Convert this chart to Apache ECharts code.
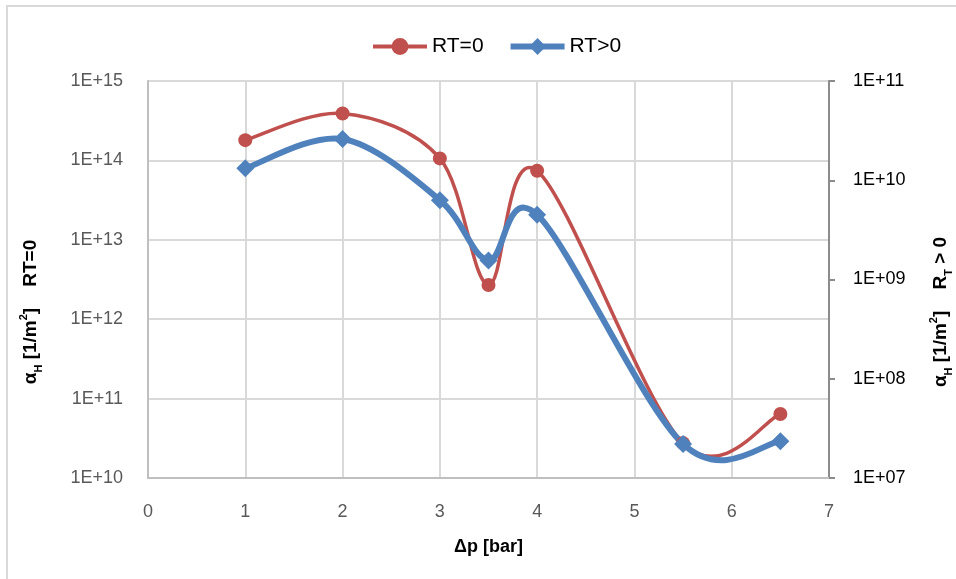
<!DOCTYPE html>
<html>
<head>
<meta charset="utf-8">
<script src="https://cdn.jsdelivr.net/npm/echarts@6/dist/echarts.min.js"></script>
<style>
html,body{margin:0;padding:0;background:#fff;}
#chart{width:956px;height:579px;}
</style>
</head>
<body>
<div id="chart"></div>
<script>
var xValues = [1, 2, 3, 3.5, 4, 5.5, 6.5];
var rt0Values = [1.8e14, 3.9e14, 1.06e14, 2.7e12, 7.4e13, 2.75e10, 6.4e10];
var rtPosValues = [1.32e10, 2.6e10, 6.3e9, 1.55e9, 4.5e9, 2.2e7, 2.35e7];
var seriesNames = ['RT=0', 'RT>0'];
var xTitle = 'Δp [bar]';

var FONT = '"Liberation Sans", "DejaVu Sans", sans-serif';
var RED = '#C0504D', BLUE = '#4F81BD';

function pairs(xs, ys) {
  return xs.map(function (x, i) { return [x, ys[i]]; });
}
function expLabel(v) {
  var e = Math.round(Math.log(v) / Math.LN10);
  return '1E+' + (e < 10 ? '0' + e : e);
}

// Excel-like smoothed curve (Catmull-Rom Bezier in pixel space), positions via api.coord
function curveRenderer(xs, ys, color, width) {
  return function (params, api) {
    if (params.dataIndex !== 0) return null;
    var p = xs.map(function (x, i) { return api.coord([x, ys[i]]); });
    var n = p.length;
    var d = 'M' + p[0][0] + ' ' + p[0][1];
    for (var i = 0; i < n - 1; i++) {
      var p0 = p[i > 0 ? i - 1 : i], p1 = p[i], p2 = p[i + 1], p3 = p[i + 2 < n ? i + 2 : i + 1];
      var c1x = p1[0] + (p2[0] - p0[0]) / 6, c1y = p1[1] + (p2[1] - p0[1]) / 6;
      var c2x = p2[0] - (p3[0] - p1[0]) / 6, c2y = p2[1] - (p3[1] - p1[1]) / 6;
      d += ' C' + c1x + ' ' + c1y + ' ' + c2x + ' ' + c2y + ' ' + p2[0] + ' ' + p2[1];
    }
    return {
      type: 'path',
      shape: {pathData: d},
      style: {stroke: color, lineWidth: width, fill: 'none', lineJoin: 'round', lineCap: 'round'}
    };
  };
}

var chart = echarts.init(document.getElementById('chart'), null, {renderer: 'canvas'});

var titleRich = {
  b: {fontFamily: FONT, fontWeight: 'bold', fontSize: 19, color: '#000', lineHeight: 26, verticalAlign: 'middle'},
  s: {fontFamily: FONT, fontWeight: 'bold', fontSize: 11, color: '#000', lineHeight: 26, verticalAlign: 'bottom'},
  p: {fontFamily: FONT, fontWeight: 'bold', fontSize: 11, color: '#000', lineHeight: 26, verticalAlign: 'top'}
};

chart.setOption({
  animation: false,
  backgroundColor: '#fff',
  textStyle: {fontFamily: FONT},
  legend: {
    top: 31,
    left: 366,
    itemWidth: 54,
    itemHeight: 21,
    itemGap: 24,
    textStyle: {fontFamily: FONT, fontSize: 21, color: '#000'},
    data: [
      {name: seriesNames[0], lineStyle: {opacity: 1, width: 4, color: RED}},
      {name: seriesNames[1], lineStyle: {opacity: 1, width: 6, color: BLUE}}
    ]
  },
  grid: {left: 148, right: 127, top: 81, bottom: 101},
  xAxis: {
    type: 'value',
    min: 0, max: 7, interval: 1,
    name: xTitle,
    nameLocation: 'middle',
    nameGap: 60,
    nameTextStyle: {fontFamily: FONT, fontWeight: 'bold', fontSize: 18, color: '#000'},
    axisLine: {show: true, lineStyle: {color: '#bfbfbf', width: 2}},
    axisTick: {show: false},
    axisLabel: {fontFamily: FONT, fontSize: 18, color: '#595959', margin: 25},
    splitLine: {show: true, lineStyle: {color: '#d9d9d9', width: 2}}
  },
  yAxis: [{
    type: 'log', logBase: 10,
    min: 1e10, max: 1e15,
    position: 'left',
    axisLine: {show: true, lineStyle: {color: '#bfbfbf', width: 2}},
    axisTick: {show: false},
    axisLabel: {fontFamily: FONT, fontSize: 18, color: '#595959', margin: 25, formatter: expLabel},
    splitLine: {show: true, lineStyle: {color: '#d9d9d9', width: 2}}
  }, {
    type: 'log', logBase: 10,
    min: 1e7, max: 1e11,
    position: 'right',
    axisLine: {show: true, lineStyle: {color: '#8c8c8c', width: 2}},
    axisTick: {show: true, inside: false, length: 6, lineStyle: {color: '#8c8c8c', width: 2}},
    axisLabel: {fontFamily: FONT, fontSize: 18, color: '#000', margin: 24, formatter: expLabel},
    splitLine: {show: false}
  }],
  graphic: [
    {type: 'rect', silent: true, shape: {x: 7, y: 6, width: 1000, height: 1000},
     style: {fill: 'none', stroke: '#d9d9d9', lineWidth: 2}, z: -1},
    {type: 'text', x: 31, y: 312, rotation: Math.PI / 2,
     style: {text: '{b|α}{s|H}{b| [1/m}{p|2}{b|]    RT=0}', rich: titleRich, align: 'center', verticalAlign: 'middle'}},
    {type: 'text', x: 941, y: 312, rotation: Math.PI / 2,
     style: {text: '{b|α}{s|H}{b| [1/m}{p|2}{b|]    R}{s|T}{b| > 0}', rich: titleRich, align: 'center', verticalAlign: 'middle'}}
  ],
  series: [{
    name: seriesNames[0] + ' curve',
    type: 'custom',
    coordinateSystem: 'cartesian2d',
    yAxisIndex: 0,
    silent: true,
    data: pairs(xValues, rt0Values),
    renderItem: curveRenderer(xValues, rt0Values, RED, 3.5)
  }, {
    name: seriesNames[0],
    type: 'line',
    yAxisIndex: 0,
    data: pairs(xValues, rt0Values),
    symbol: 'circle',
    symbolSize: 14,
    lineStyle: {color: RED, width: 3, opacity: 0},
    itemStyle: {color: RED}
  }, {
    name: seriesNames[1] + ' curve',
    type: 'custom',
    coordinateSystem: 'cartesian2d',
    yAxisIndex: 1,
    silent: true,
    data: pairs(xValues, rtPosValues),
    renderItem: curveRenderer(xValues, rtPosValues, BLUE, 6)
  }, {
    name: seriesNames[1],
    type: 'line',
    yAxisIndex: 1,
    data: pairs(xValues, rtPosValues),
    symbol: 'diamond',
    symbolSize: 18,
    lineStyle: {color: BLUE, width: 6, opacity: 0},
    itemStyle: {color: BLUE}
  }]
});
</script>
</body>
</html>
